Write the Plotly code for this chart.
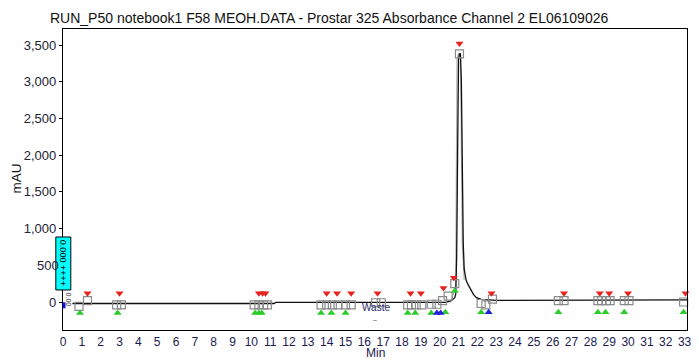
import plotly.graph_objects as go

# ---- chromatogram trace (time in min, absorbance in mAU) ----
time_min = [0.5, 11.2, 11.3, 20.3, 20.6, 20.8, 20.85, 20.9, 20.95, 21.0, 21.05, 21.1, 21.15,
            21.2, 21.25, 21.3, 21.4, 21.5, 21.6, 21.7, 21.8, 21.95, 22.2, 23.0, 26.0, 30.0, 33.13]
mau = [-20, -20, -5, -5, 15, 60, 100, 600, 2000, 3300, 3380, 3380, 3000,
       1800, 800, 450, 300, 240, 190, 140, 100, 60, 35, 22, 25, 28, 30]

# secondary (gray) trace on the main peak
gray_time = [20.6, 20.85, 20.88, 20.92, 21.0, 21.1, 21.14, 21.2, 21.3]
gray_mau = [20, 200, 1500, 3300, 3380, 3380, 2500, 800, 300]

# ---- peak-event markers ----
red_t = [1.3, 3.0, 10.4, 10.6, 10.75, 14.0, 14.55, 15.3, 16.7, 18.45, 19.0, 20.2, 20.75,
         21.05, 22.75, 26.6, 28.5, 29.0, 30.0, 33.05]
red_v = [120, 120, 120, 120, 120, 120, 120, 120, 120, 120, 120, 190, 330,
         3520, 120, 120, 120, 120, 120, 120]

green_t = [0.9, 2.9, 10.2, 10.4, 10.55, 13.7, 14.25, 15.0, 18.3, 18.7, 19.55, 20.3,
           20.8, 22.2, 26.3, 28.4, 28.8, 29.8, 32.95]
green_v = [-150, -150, -150, -150, -150, -150, -150, -150, -150, -150, -150, -140,
           150, -140, -140, -140, -140, -140, -140]

blue_t = [19.85, 20.05, 22.6]
blue_v = [-150, -150, -140]

square_t = [0.85, 1.3, 2.85, 3.1, 10.15, 10.4, 10.65, 10.85, 13.7, 14.0, 14.3, 14.6,
            15.0, 15.3, 16.6, 16.9, 18.3, 18.5, 18.75, 19.05, 19.55, 19.85, 20.15,
            20.45, 20.8, 21.05, 22.2, 22.45, 22.8, 26.3, 26.6, 28.4, 28.6, 28.85, 29.05,
            29.8, 30.05, 32.95]
square_v = [-60, 20, -40, -40, -40, -40, -40, -40, -40, -40, -40, -40,
            -40, -40, -10, -10, -40, -40, -40, -40, -30, -30, 20,
            80, 250, 3380, -20, -40, 40, 20, 20, 20, 20, 20, 20,
            20, 20, 0]

x_ticks = list(range(0, 34))
y_ticks = [0, 500, 1000, 1500, 2000, 2500, 3000, 3500]
y_tick_labels = ["0", "500", "1,000", "1,500", "2,000", "2,500", "3,000", "3,500"]

title_text = "RUN_P50 notebook1 F58 MEOH.DATA - Prostar 325 Absorbance Channel 2 EL06109026"

FONT = "Liberation Sans, Arial, sans-serif"
YTICK_FONT = dict(family=FONT, size=13, color="#222233")

fig = go.Figure()

fig.add_trace(go.Scatter(x=gray_time, y=gray_mau, mode="lines",
                         line=dict(color="#b0b0b0", width=1.2), hoverinfo="skip",
                         showlegend=False))
fig.add_trace(go.Scatter(x=time_min, y=mau, mode="lines",
                         line=dict(color="#111111", width=1.3), showlegend=False))
fig.add_trace(go.Scatter(x=square_t, y=square_v, mode="markers",
                         marker=dict(symbol="square-open", size=8,
                                     color="#8a8a8a", line=dict(width=1.2)),
                         showlegend=False, cliponaxis=False))
fig.add_trace(go.Scatter(x=red_t, y=red_v, mode="markers",
                         marker=dict(symbol="triangle-down", size=7, color="#e8231f"),
                         showlegend=False, cliponaxis=False))
fig.add_trace(go.Scatter(x=green_t, y=green_v, mode="markers",
                         marker=dict(symbol="triangle-up", size=7, color="#2ccc2c"),
                         showlegend=False, cliponaxis=False))
fig.add_trace(go.Scatter(x=blue_t, y=blue_v, mode="markers",
                         marker=dict(symbol="triangle-up", size=7, color="#2020d8"),
                         showlegend=False, cliponaxis=False))

# "Waste" label on the baseline
fig.add_annotation(x=16.6, y=-70, text="Waste", showarrow=False,
                   xanchor="center", yanchor="middle",
                   font=dict(family=FONT, size=10, color="#2a2a6a"))
fig.add_annotation(x=16.55, y=-235, text="–", showarrow=False,
                   xanchor="center", yanchor="middle",
                   font=dict(family=FONT, size=7, color="#555555"))

# cyan inset box at the origin (paper coords)
fig.add_shape(type="rect", xref="paper", yref="paper",
              x0=-0.0115, x1=0.0125, y0=0.133, y1=0.309,
              fillcolor="#00ffff", line=dict(color="#000000", width=1), layer="above")
fig.add_annotation(xref="paper", yref="paper", x=0.0005, y=0.222,
                   text="0.000 ++++", textangle=90, showarrow=False,
                   xanchor="center", yanchor="middle",
                   font=dict(family=FONT, size=9, color="#000000"))
fig.add_annotation(xref="paper", yref="paper", x=0.0085, y=0.10,
                   text="0.00", textangle=90, showarrow=False,
                   xanchor="center", yanchor="middle",
                   font=dict(family=FONT, size=7, color="#333333"))
fig.add_shape(type="rect", xref="paper", yref="paper",
              x0=-0.0005, x1=0.004, y0=0.072, y1=0.092,
              fillcolor="#1010e0", line=dict(width=0), layer="above")
# the "500" tick text is drawn as an annotation so it stays visible beside the inset box
fig.add_annotation(xref="paper", yref="y", x=-0.004, y=y_ticks[1], text=y_tick_labels[1],
                   showarrow=False, xanchor="right", yanchor="middle",
                   font=YTICK_FONT)
axis_tick_text = [("" if v == y_ticks[1] else t) for v, t in zip(y_ticks, y_tick_labels)]

# title and axis titles
fig.add_annotation(xref="paper", yref="paper", x=0.426, y=1.0365, text=title_text,
                   showarrow=False, xanchor="center", yanchor="middle",
                   font=dict(family=FONT, size=14, color="#111111"))
fig.add_annotation(xref="paper", yref="paper", x=-0.0731, y=0.505, text="mAU",
                   textangle=-90, showarrow=False, xanchor="center", yanchor="middle",
                   font=dict(family=FONT, size=13.5, color="#111111"))
fig.add_annotation(xref="paper", yref="paper", x=0.5008, y=-0.0775, text="Min",
                   showarrow=False, xanchor="center", yanchor="middle",
                   font=dict(family=FONT, size=12, color="#1a1a50"))

fig.update_layout(
    width=699, height=360,
    margin=dict(l=63, r=7, t=29, b=30),
    paper_bgcolor="white", plot_bgcolor="white",
    font=dict(family=FONT, size=13, color="#222244"),
    showlegend=False,
    xaxis=dict(range=[0, 33.13], tickvals=x_ticks, ticktext=[str(v) for v in x_ticks],
               showgrid=False, zeroline=False, showline=True, linecolor="#000000",
               linewidth=1.2, mirror=True, ticks="", ticklabelstandoff=0,
               tickfont=dict(family=FONT, size=12, color="#1a1a50")),
    yaxis=dict(range=[-381, 3718], tickvals=y_ticks, ticktext=axis_tick_text,
               showgrid=False, zeroline=False, showline=True, linecolor="#000000",
               linewidth=1.2, mirror=True, ticks="outside", ticklen=3,
               tickcolor="#000000", tickfont=YTICK_FONT),
)

fig.write_html("out.html")
